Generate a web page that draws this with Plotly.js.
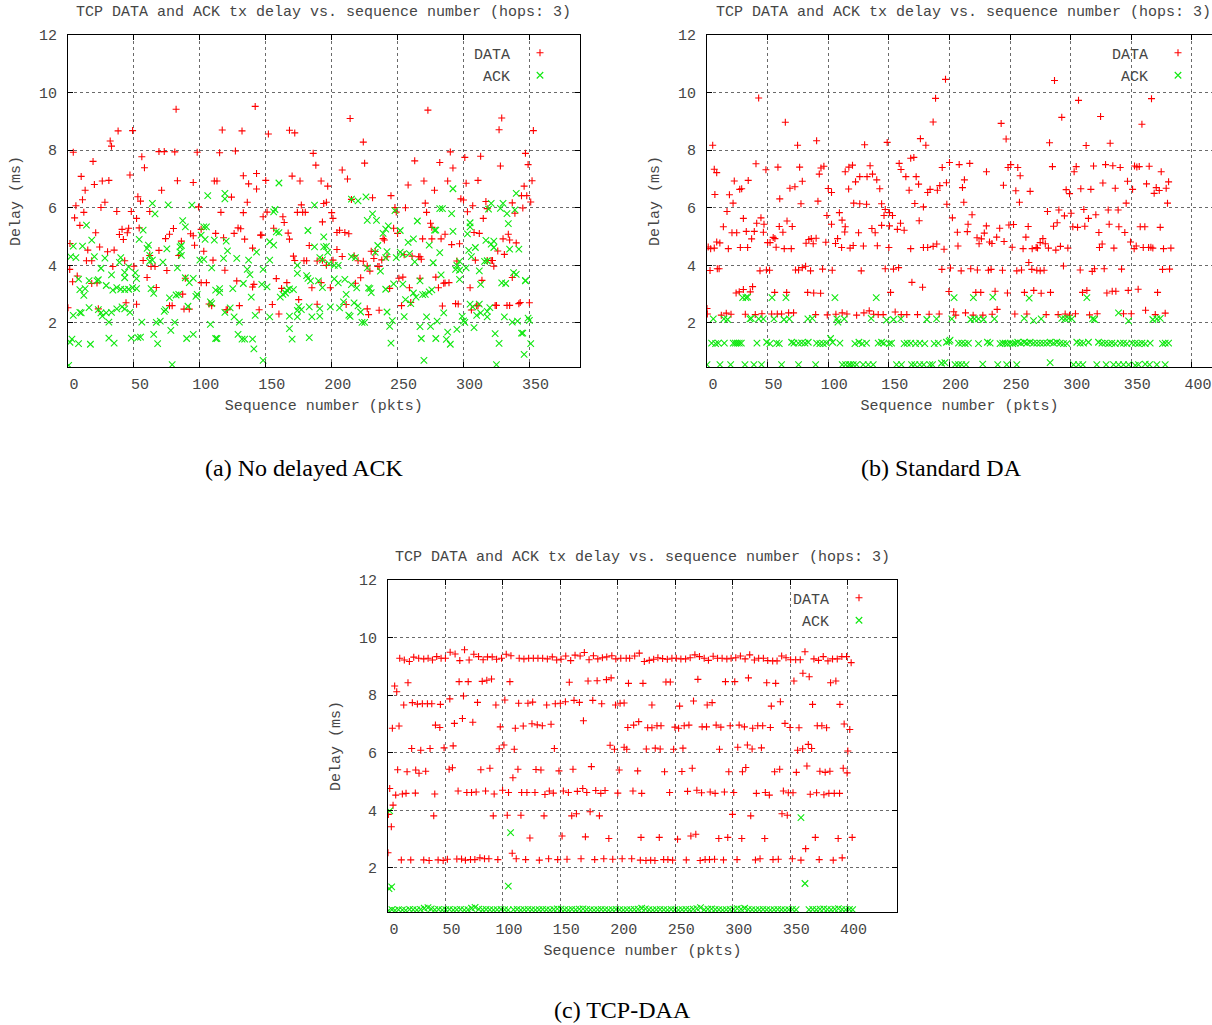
<!DOCTYPE html>
<html>
<head>
<meta charset="utf-8">
<script src="https://cdn.plot.ly/plotly-3.0.1.min.js"></script>
<style>
html,body{margin:0;padding:0;background:#fff;}
#chart{position:absolute;left:0;top:0;width:1212px;height:1025px;}
</style>
</head>
<body>
<div id="chart"></div>
<script>
// ---------- DATA ----------
const seriesNames = ['DATA', 'ACK'];
const chartTitle = 'TCP DATA and ACK tx delay vs. sequence number (hops: 3)';
const xLabel = 'Sequence number (pkts)';
const yLabel = 'Delay (ms)';
const captions = ['(a) No delayed ACK', '(b) Standard DA', '(c) TCP-DAA'];

// Panel (a): No delayed ACK  [sequence, delay ms]
const aData = [
[0,2.53],[1.5,4.76],[1.3,3.86],[3.5,3.43],[4,7.93],[5,5.65],[6,6.07],[7,3.63],[9,5.39],[10,7.09],[11,6.28],[12,5.84],[13,6.61],[14,4.16],[15,4.53],[18,4.16],[18,3.37],[19,7.61],[20,6.81],[21,5.13],[22,3.39],[23,2.49],[24,4.64],[25,6.01],[26,6.93],[28,6.19],[30,4.47],[31,6.95],[32,8.32],[33,8.14],[34,3.96],[35,4.53],[37,5.87],[38,8.67],[39,5.07],[41,5.25],[42,4.9],[43,4.16],[44,2.7],[45,5.13],[46,5.29],[47,7.14],[48,5.87],[49,8.68],[50,3.97],[52,5.63],[52,2.65],[53,6.38],[54,5.3],[55,6.23],[56,7.77],[57,4.17],[58,7.39],[60,3.58],[62,5.87],[62,4.34],[63,3.96],[66,3.96],[67,3.23],[69,7.95],[69,4.52],[71,6.61],[73,7.95],[74,4.93],[75,3.82],[77,5.08],[77,2.6],[79,2.6],[80,5.28],[81,7.94],[82,9.42],[83,6.94],[84,4.34],[86,4.84],[87,3.0],[88,2.48],[89,3.55],[92,2.48],[93,5.1],[95,5.03],[95,6.88],[96,4.7],[98,7.93],[99,6.03],[101,5.25],[101,3.4],[103,4.49],[105,3.4],[107,2.66],[109,2.6],[110,4.18],[111,6.93],[112,5.11],[113,6.93],[115,7.91],[116,5.84],[117,8.7],[118,4.96],[119,3.83],[120,2.46],[121,2.46],[124,6.37],[126,5.11],[127,7.97],[128,3.46],[129,5.3],[130,2.6],[131,5.27],[132,8.67],[133,7.11],[133,5.83],[134,4.91],[136,6.19],[137,6.83],[140,4.6],[140,3.25],[141,3.34],[142,9.52],[143,7.19],[143,6.65],[145,2.46],[146,5.05],[147,5.05],[148,5.69],[150,6.95],[151,5.85],[152,8.56],[155,2.64],[156,5.29],[158,3.54],[160,2.31],[162,3.2],[163,5.69],[164,5.49],[166,3.4],[167,5.12],[168,4.91],[168,8.69],[170,7.1],[171,4.32],[172,4.17],[172,8.6],[174,5.84],[175,2.81],[176,6.93],[177,6.1],[178,5.84],[179,4.16],[180,5.84],[181,4.16],[183,4.69],[185,3.22],[186,7.89],[188,7.48],[189,4.15],[189,2.65],[192,6.93],[193,5.51],[193,4.18],[194,6.15],
[192,3.4],[196,6.19],[196,4.0],[197,6.75],[199,3.22],[200,5.83],[201,5.63],[201,4.18],[204,5.14],[204,4.55],[206,5.22],[208,7.31],[208,4.31],[210,5.14],[211,2.64],[212,7.0],[213,5.1],[214,9.1],[215,6.29],[217,4.33],[218,3.38],[220,4.16],[222,3.57],[224,8.28],[224,4.14],[225,7.55],[227,3.98],[227,2.49],[228,2.29],[229,3.8],[230,4.49],[231,6.35],[232,4.24],[233,4.48],[235,3.96],[236,3.96],[236,2.44],[238,4.19],[239,4.93],[240,4.88],[242,4.3],[244,3.2],[245,6.42],[247,5.29],[248,6.01],[249,5.85],[250,5.11],[251,3.55],[253,2.6],[254,3.59],[255,4.37],[256,6.0],[258,6.79],[259,3.22],[260,2.71],[261,4.32],[263,7.63],[266,4.3],[267,4.3],[267,3.55],[268,4.21],[269,4.92],[270,6.93],[271,6.16],[272,5.84],[273,9.39],[275,5.46],[276,5.32],[276,4.92],[278,6.61],[279,3.59],[281,3.22],[282,7.57],[283,4.92],[284,2.59],[285,3.38],[286,5.08],[286,3.39],[288,6.93],[289,3.4],[290,7.94],[291,4.72],[292,7.38],[294,2.67],[295,4.15],[296,2.66],[297,4.75],[298,6.31],[300,6.27],[301,7.75],[302,6.85],[303,5.86],[305,3.22],[306,2.45],[307,6.07],[308,5.14],[309,4.18],[310,2.6],[311,6.95],[311,2.6],[312,5.11],[313,7.79],[314,3.48],[315,5.63],[317,6.22],[318,5.97],[318,4.17],[321,4.17],[322,4.17],[323,3.97],[324,2.61],[325,2.61],[326,4.5],[327,8.71],[328,7.45],[329,9.12],[330,4.92],[331,4.38],[333,2.61],[334,5.08],[335,4.88],[335,2.61],[337,6.17],[337,3.58],[339,5.81],[340,4.78],[342,2.67],[343,2.71],[344,6.42],[345,5.99],[346,6.75],[347,7.89],[348,6.42],[349,7.5],[350,2.7],[351,6.2],[352,6.94],[353,8.68]
];
const aAck = [
[0.5,0.53],[1.5,1.33],[2,4.3],[3,1.44],[4,4.67],[4,2.26],[6,4.27],[8,1.28],[8,3.52],[9,2.37],[9,3.16],[10,2.35],[11,4.67],[12,2.96],[13,3.19],[14,5.4],[16,2.53],[16,3.47],[17,1.26],[18,4.88],[20,4.3],[22,3.46],[23,2.46],[23,3.5],[25,2.35],[25,3.9],[26,2.24],[28,4.25],[29,2.35],[29,3.3],[31,2.03],[31,1.47],[33,2.37],[33,3.67],[34,3.14],[35,1.3],[37,2.49],[37,3.23],[39,4.1],[40,4.27],[40,3.17],[41,2.56],[43,2.49],[43,3.16],[43,3.57],[43,3.76],[46,3.17],[46,3.95],[47,2.37],[48,1.47],[49,3.23],[51,3.74],[52,3.19],[52,3.54],[53,1.49],[54,4.9],[55,1.51],[56,2.03],[57,5.22],[60,4.59],[61,4.7],[62,4.35],[62,4.14],[63,3.19],[64,4.18],[64,6.15],[65,3.03],[65,1.6],[66,5.79],[67,2.02],[68,1.28],[70,2.06],[72,4.11],[73,2.4],[74,2.46],[75,4.57],[76,6.1],[77,2.87],[78,1.74],[79,0.55],[81,2.02],[82,2.97],[83,3.91],[84,2.99],[85,4.64],[85,4.47],[86,4.35],[86,4.69],[87,5.55],[89,5.34],[89,3.57],[90,1.46],[91,2.58],[92,3.4],[94,6.09],[95,3.55],[95,1.6],[97,2.92],[98,2.99],[100,4.18],[101,5.05],[103,5.34],[103,4.21],[104,4.9],[105,5.34],[106,6.42],[108,2.73],[108,1.95],[109,2.67],[109,3.91],[111,4.88],[112,3.14],[112,1.46],[113,1.46],[115,3.19],[115,3.06],[118,4.24],[119,2.37],[119,6.5],[119,6.31],[120,4.84],[121,4.5],[123,2.52],[125,3.19],[126,2.21],[128,4.24],[129,1.6],[130,2.03],[132,1.44],[133,3.37],[134,1.44],[136,3.86],[137,4.18],[138,3.68],[139,2.9],[140,1.44],[141,1.1],[142,2.26],[143,4.46],[147,3.34],[148,3.86],[148,0.7],[151,3.25],[153,4.82],[153,4.18],[153,2.21],[156,4.7],[156,5.86],[157,5.94],[158,5.16],[160,5.14],[160,6.86],[161,2.9],[163,2.99],[165,3.04],[166,3.14],[168,3.18],[168,2.24],[168,1.8],[170,1.44],[171,3.16],[174,3.72],[174,4.0],[174,2.21],[174,2.44],[175,2.57],[177,2.46],[181,3.64],[182,3.55],[182,5.21],[183,2.56],[183,1.49],[184,3.46],[185,2.21],[187,4.64],[187,6.09],[190,3.46],[191,4.27],[191,2.24],[193,3.23],[194,4.64],[194,4.99],
[191,2.5],[193,4.19],[196,4.66],[197,4.45],[198,4.06],[199,2.56],[202,4.0],[202,3.53],[205,4.0],[205,3.39],[206,2.52],[209,2.73],[210,3.51],[211,2.99],[213,2.27],[214,2.23],[215,4.3],[215,3.33],[215,6.3],[217,2.7],[218,4.27],[219,3.22],[220,2.59],[220,6.24],[222,2.38],[223,2.02],[225,2.02],[226,6.38],[227,5.56],[227,3.91],[228,3.22],[229,3.19],[230,3.05],[231,5.79],[233,4.45],[234,5.56],[235,4.69],[237,3.8],[239,5.11],[241,5.26],[241,4.27],[241,3.17],[242,4.48],[242,2.38],[243,5.37],[244,1.88],[245,1.3],[246,2.08],[247,3.36],[248,5.9],[249,4.27],[252,5.21],[252,4.46],[254,4.38],[254,3.35],[255,2.22],[256,2.81],[258,4.8],[259,4.41],[260,2.67],[262,4.92],[262,3.04],[263,4.12],[264,2.9],[265,5.54],[267,1.87],[267,3.46],[268,1.46],[269,2.98],[270,0.7],[271,2.99],[272,2.21],[274,4.7],[274,3.08],[275,1.88],[276,3.15],[277,4.09],[278,5.22],[279,5.22],[279,1.46],[280,2.06],[282,4.44],[282,5.97],[283,3.67],[284,5.97],[285,2.35],[287,1.43],[288,1.68],[290,1.26],[291,5.8],[292,5.18],[292,6.66],[294,3.86],[295,4.0],[295,1.78],[297,3.83],[297,3.51],[297,4.14],[299,2.23],[300,2.07],[301,2.02],[302,3.91],[303,5.09],[304,4.52],[305,5.48],[305,5.34],[305,2.65],[306,4.3],[307,2.56],[308,1.84],[309,4.62],[310,2.26],[312,3.81],[312,2.65],[313,3.34],[313,2.35],[316,4.14],[317,4.87],[318,4.16],[318,2.21],[318,2.4],[319,5.95],[320,2.53],[321,4.74],[321,6.15],[323,4.62],[323,4.84],[324,1.63],[325,0.55],[327,1.29],[328,5.98],[329,3.39],[330,6.15],[331,2.21],[332,3.37],[333,5.8],[334,5.45],[335,4.56],[337,2.03],[338,3.75],[339,5.93],[340,3.69],[340,6.5],[341,2.06],[342,4.56],[344,1.65],[345,1.65],[346,0.91],[347,3.46],[347,3.48],[349,2.17],[350,2.09],[351,1.28]
];

// Panel (b): Standard DA
const bData = [
[0,2.5],[0.3,2.31],[1,4.64],[2.5,3.82],[3,4.58],[4.7,8.17],[6,4.6],[6,7.34],[6.5,6.46],[8,7.22],[8,4.81],[8.5,3.88],[10,3.88],[10.6,4.78],[11.8,2.27],[13.5,5.34],[15.9,2.34],[16.5,5.87],[17.6,4.58],[18.5,6.45],[19.8,2.3],[20.6,5.13],[21.5,6.16],[22.5,6.93],[24,3.04],[24.5,5.13],[26.6,3.08],[27,6.64],[27.5,4.62],[28.6,6.66],[30,5.63],[30,3.16],[31.6,2.3],[32.4,5.18],[33.5,4.62],[34,6.95],[35.7,3.08],[36.8,4.92],[37.6,3.26],[39,5.18],[39.8,2.29],[40.4,7.53],[41,5.46],[42.6,9.81],[43.7,3.81],[44.5,5.65],[45.3,2.32],[46.5,5.15],[47,5.43],[48.6,7.32],[49,3.84],[50,4.79],[51.6,3.83],[52,4.79],[53.3,2.31],[54.6,4.97],[55.8,3.06],[56,4.93],[57,4.63],[58,2.31],[58.5,7.41],[59.6,5.35],[60,6.31],[61.5,2.31],[62.6,5.15],[63.7,4.58],[64.6,8.97],[65.7,3.06],[66,5.54],[67.3,2.35],[68.4,6.68],[69.5,4.58],[70.3,5.35],[71.4,2.35],[72.5,6.73],[73,3.84],[74.7,8.17],[75.5,3.84],[76.4,7.41],[77.5,6.14],[78.6,6.92],[78.6,3.92],[81.3,3.97],[81.7,4.77],[83,3.06],[84,4.9],[85.4,3.81],[86,4.93],[87.6,4.75],[88,3.04],[89.6,2.29],[90,4.94],[90.4,8.33],[91.5,6.23],[92.6,7.17],[93.7,3.03],[94,7.38],[95.3,3.87],[96.4,7.44],[98,4.8],[98.9,5.73],[99.2,2.28],[100,6.67],[102.7,6.53],[102.7,5.43],[103.3,3.83],[106,4.76],[106.3,2.3],[107.7,4.93],[109.2,5.83],[111,4.62],[111.4,5.57],[111.5,2.35],[113.6,5.16],[114,5.34],[114,7.25],[115.4,2.31],[116.8,6.65],[117,7.41],[118,4.6],[120,7.48],[120.6,4.69],[121,6.16],[122.5,6.9],[123.4,2.27],[125,5.13],[126,7.08],[126,6.14],[127.2,3.81],[129,4.67],[129.4,2.35],[130,8.19],[131.6,6.12],[132,7.08],[133.8,2.42],[134.5,7.46],[136,5.28],[136.5,7.17],[137.4,2.3],[138.7,5.13],[140,6.97],[140.5,4.68],[141.2,2.29],[142.5,6.66],[144,6.14],[144,5.39],[145.3,2.29],[146,5.73],[147,5.94],[147,3.88],[148.6,8.27],[150,4.62],[150.5,5.83],[150.5,5.37],[151.4,3.06],[153,5.73],[153.8,3.87],[155.2,2.38],[157,5.25],[158,3.92],[158.5,7.54],[159.6,5.46],[160,7.33],[160.2,2.29],[162.6,5.22],[164,7.08],[164.8,2.29],[166.7,6.61],[168,7.72],[168,4.58],[169,3.41],[170.6,7.75],[171.4,6.15],[172.5,7.08],[173.6,2.29],[174.5,6.82],[175,5.55],[176,8.4],[177.8,3.24],[178.5,6.03],[178.5,4.62],[180.5,8.17],[182,6.53],[182,4.62],[183.2,2.3],[184,6.64],[186.5,8.98],[186.5,4.66],[188.5,9.8],[189.5,4.74],[190,6.61],[191.5,2.31],[192,6.77],[193.7,3.86],[194,7.4],[195.5,4.56],[196.7,10.46],[197.5,6.87],[197.8,6.12],[199.5,3.09],[200,7.57],[200.8,3.91],
[202.4,5.65],[203.5,2.39],[205.2,2.27],[206.5,5.15],[207,4.67],[208,7.5],[209.6,3.81],[210.7,6.7],[211.8,6.19],[212.3,6.97],[213.2,2.35],[214.7,5.17],[215.3,5.43],[216.7,7.54],[217.5,3.88],[218.6,5.76],[219.5,2.27],[221.7,3.06],[222.7,4.96],[223,3.84],[224.4,4.75],[225.8,3.06],[226.3,4.92],[227.5,2.27],[228.7,5.12],[230.4,5.37],[230.5,7.25],[232.1,3.83],[233,4.81],[234.3,3.86],[235,4.76],[235.2,2.3],[237.6,3.1],[238.9,4.98],[239.3,2.47],[241.4,5.29],[242.6,8.93],[243.7,3.83],[244.5,6.78],[245,4.83],[246.7,8.39],[247.8,3.04],[248.3,7.4],[249,5.4],[250.5,7.5],[251.7,4.63],[252.8,5.42],[253.9,2.31],[254.7,6.59],[255.5,3.81],[256.3,7.4],[257.7,6.19],[258.3,7.11],[259.4,3.84],[260.7,4.58],[261.8,3.06],[263,4.98],[263.8,2.31],[264.9,5.35],[265.4,4.1],[266.5,6.57],[267.9,3.86],[268.2,4.58],[269.5,3.13],[271.5,4.62],[272,3.83],[272.6,4.6],[274.8,4.79],[274.8,3.81],[275.6,3.03],[277,4.93],[278,3.83],[279,4.75],[279.7,2.29],[280.8,5.87],[281.6,4.6],[282.5,8.26],[283.3,3.06],[284.9,7.43],[285.8,5.36],[286.6,10.42],[287.7,4.53],[288.8,5.48],[289.6,2.29],[290.2,5.92],[291.5,4.66],[292.6,9.14],[294,3.98],[294.8,5.72],[295.4,2.31],[296.2,6.63],[297.6,4.6],[299,6.49],[299,2.27],[300.3,5.81],[301.7,5.34],[302.8,7.25],[303.9,2.32],[304.5,7.43],[305.6,5.32],[306.4,9.73],[307.8,3.84],[308.3,6.66],[309.7,3.06],[310.8,5.94],[311.6,5.36],[312.7,8.16],[313.3,3.13],[314.6,5.63],[315.5,2.28],[316.6,6.64],[317.7,3.79],[318.8,7.45],[319.6,3.88],[320.7,5.76],[321.8,2.32],[323.2,5.14],[323.7,4.62],[324.6,9.17],[325.9,4.74],[326.5,6.86],[327.6,3.88],[328.7,7.5],[329.8,3.04],[330.9,5.92],[331.7,5.43],[332.5,8.24],[334.2,3.1],[334.7,7.46],[335.6,4.6],[336.7,6.68],[337.2,3.1],[339.1,5.92],[339.7,5.34],[340.8,7.4],[341.9,3.87],[343.5,2.32],[344.6,5.14],[345.7,6.16],[346.8,6.92],[347.4,3.13],[349.3,4.81],[349.9,2.32],[351,6.64],[352.3,4.58],[352.6,7.45],[354,4.67],[354.5,7.42],[355.6,3.17],[356.5,7.43],[357.3,5.34],[358.7,8.9],[359.8,4.62],[361.1,5.34],[361.7,2.44],[362.5,6.83],[364.2,4.62],[364.7,7.44],[366.1,4.63],[366.6,9.79],[367.7,4.6],[368.8,6.5],[369.7,2.29],[370.5,6.7],[371.6,3.06],[373,6.6],[373.8,5.32],[374.6,7.25],[375.7,3.86],[376.5,4.58],[377.9,2.34],[378.7,6.68],[379.8,6.16],[380.7,6.9],[381.5,3.87],[382.6,4.6]
];
const bAck = [
[29.4,2.88],[32.1,2.88],[33.5,2.9],[53.6,2.88],[65.1,2.88],[105.5,2.88],[139.6,2.88],[203.8,2.88],[219.7,2.88],[235.7,2.9],[265.7,2.86],[313.3,2.88],
[5.2,2.14],[14,2.14],[17,2.12],[35.4,2.14],[36.5,2.16],[42.6,2.14],[46.4,2.14],[55.2,2.14],[63.5,2.12],[67.9,2.14],[83.2,2.14],[86.8,2.16],[107.1,2.14],[108,2.03],[113.2,2.14],[135.4,2.16],[148.1,2.1],[153.8,2.12],[159.9,2.14],[181.3,2.12],[189.3,2.14],[201.9,2.14],[217.5,2.12],[220.6,2.14],[223.9,2.14],[228,2.12],[237.1,2.14],[261.6,2.16],[269.3,2.08],[275.6,2.14],[292.6,2.16],[295.4,2.14],[298.1,2.16],[300.9,2.14],[318,2.14],[319.6,2.12],[339.4,2.35],[347.7,2.07],[367.7,2.12],[371,2.14],[373.8,2.16],
[3.8,1.3],[7.1,1.28],[9.3,1.3],[14.3,1.3],[21.7,1.3],[23.4,1.3],[25,1.3],[26.6,1.3],[28.3,1.3],[41.2,1.3],[49.2,1.33],[51.9,1.28],[57.4,1.3],[59.6,1.28],[69.8,1.33],[71.7,1.3],[75.3,1.3],[78,1.31],[80.8,1.3],[83.5,1.33],[90.4,1.3],[93.1,1.28],[95.9,1.28],[98.6,1.3],[101.9,1.46],[103.6,1.33],[109.6,1.3],[122,1.28],[125.3,1.33],[128,1.28],[131.6,1.3],[141.2,1.3],[144,1.33],[145.9,1.3],[150.3,1.28],[152.2,1.3],[162.6,1.28],[165.1,1.3],[168.1,1.3],[172,1.28],[175.5,1.3],[179.6,1.28],[187.4,1.28],[190.7,1.3],[197.5,1.33],[199.7,1.36],
[200.5,1.4],[207.4,1.3],[210.1,1.3],[212.9,1.28],[215.6,1.3],[223.9,1.28],[231.3,1.33],[233.5,1.3],[241.7,1.28],[243.9,1.3],[245.9,1.3],[247.8,1.28],[250,1.3],[252.2,1.28],[254.1,1.3],[256.3,1.33],[258.8,1.3],[261.6,1.33],[263.8,1.3],[266.5,1.33],[269.3,1.3],[272,1.3],[274.8,1.3],[277.5,1.3],[280.3,1.3],[283,1.33],[285.8,1.3],[288.5,1.33],[291.3,1.3],[294,1.28],[296.8,1.28],[305,1.33],[307.8,1.3],[310.5,1.3],[314.6,1.33],[322.9,1.33],[325.7,1.3],[328.4,1.3],[331.2,1.28],[333.9,1.3],[336.7,1.28],[340.8,1.3],[343.5,1.3],[346.3,1.28],[350.4,1.3],[353.2,1.3],[355.9,1.28],[358.7,1.3],[361.4,1.28],[365.5,1.3],[375.7,1.28],[377.9,1.3],[380.7,1.3],
[0,0.55],[10.7,0.55],[19.5,0.55],[31.3,0.55],[38.7,0.55],[45,0.55],[61.5,0.55],[75.5,0.55],[89.6,0.55],[111.5,0.55],[114.3,0.55],[117,0.55],[118.4,0.55],[120.6,0.55],[123.4,0.55],[128.8,0.55],[133,0.55],[137.1,0.55],[156.3,0.55],[160.4,0.55],[168.7,0.55],[171.4,0.55],[175.5,0.55],[178.8,0.55],[183.8,0.55],[186,0.55],[193.4,0.6],[196.2,0.62],
[204.6,0.55],[207.4,0.55],[210.1,0.55],[213.7,0.55],[227.4,0.57],[239.8,0.55],[247.2,0.55],[255.5,0.55],[283,0.62],[302.3,0.55],[306.4,0.55],[310,0.55],[321.5,0.55],[329.2,0.55],[335.3,0.55],[339.4,0.55],[343.5,0.55],[347.7,0.55],[353.2,0.53],[355.9,0.55],[361.4,0.57],[365,0.55],[371,0.55],[377.9,0.55]
];

// Panel (c): TCP-DAA
const cData = [
[10.2,9.28],[14.2,9.22],[18.6,9.17],[22.4,9.32],[26.7,9.28],[31.1,9.26],[34.9,9.28],[38.7,9.22],[42.4,9.34],[46.2,9.28],[50,9.28],[54.1,9.49],[58.4,9.43],[62.5,9.2],[66.6,9.58],[70.6,9.22],[74.7,9.42],[78.8,9.34],[82.8,9.23],[86.6,9.33],[90.7,9.33],[94.5,9.25],[98.8,9.28],[102.9,9.42],[107,9.37],[114.2,9.28],[118.3,9.26],[122.4,9.28],[126.5,9.28],[130.5,9.28],[134.6,9.28],[138.7,9.26],[143,9.33],[146.8,9.22],[150.6,9.25],[154.7,9.36],[159,9.2],[162.8,9.39],[167.2,9.36],[170.9,9.48],[175,9.23],[178.8,9.37],[182.6,9.26],[186.6,9.3],[190.4,9.33],[194.8,9.37],[198.3,9.26],[202.6,9.28],[207.3,9.28],
[210.3,9.28],[214.7,9.36],[218.7,9.46],[223.1,9.17],[227.4,9.21],[231.2,9.25],[234.9,9.3],[239,9.27],[243.1,9.25],[247.1,9.28],[250.9,9.28],[254.9,9.26],[259,9.26],[263,9.3],[267.1,9.4],[271.1,9.34],[275.2,9.28],[278.9,9.21],[283,9.35],[286.8,9.28],[290.8,9.28],[294.9,9.26],[298.6,9.28],[302.7,9.3],[306.7,9.36],[310.8,9.26],[314.8,9.4],[318.9,9.22],[322.6,9.28],[326.7,9.28],[330.5,9.2],[334.8,9.19],[338.6,9.19],[342.6,9.36],[346.4,9.3],[350.4,9.23],[354.8,9.23],[358.8,9.23],[362.9,9.51],[370.7,9.26],[374.7,9.21],[378.8,9.34],[382.9,9.19],[386.9,9.26],[391,9.26],[395,9.34],[399.1,9.34],[403.1,9.13],
[5.8,8.32],[7.6,8.12],[17.4,8.43],[61.9,8.47],[69.8,8.47],[82,8.48],[86,8.52],[90.1,8.56],[106.1,8.47],[157.8,8.45],[174.1,8.49],[182,8.5],[190.1,8.54],[194.2,8.6],[209.3,8.41],[221.9,8.41],[241.9,8.46],[245.7,8.46],[269.7,8.55],[293.7,8.47],[301.8,8.47],[313.7,8.6],[329.6,8.43],[337.4,8.41],[353.3,8.49],[361.1,8.76],[366.6,8.64],[385.2,8.43],[389.8,8.49],
[13.7,7.66],[21.2,7.74],[25.6,7.69],[29.9,7.7],[34.3,7.7],[38.1,7.7],[45.6,7.68],[53.8,7.87],[65.7,7.97],[77.9,7.75],[93.9,7.66],[101.7,7.83],[113.7,7.72],[121.8,7.72],[125.9,7.76],[138.1,7.66],[145.6,7.7],[150,7.72],[154.4,7.77],[161.9,7.82],[166.6,7.75],[178.2,7.82],[186,7.7],[198,7.66],[202,7.72],[205.5,7.73],[229.7,7.66],[253.8,7.62],[265.9,7.8],[277.8,7.66],[282.1,7.74],[333.6,7.62],[341.5,7.77],[369.5,7.68],[393.3,7.68],
[3.8,6.85],[9.6,6.93],[41.3,6.96],[45.1,6.88],[57.8,7.02],[64.8,7.19],[73.8,7.06],[97.7,6.9],[110.8,6.85],[117.7,6.93],[125.3,7.01],[129.9,6.97],[134.3,6.94],[141.9,6.99],[170.1,7.11],[208.7,6.88],[213.8,6.96],[218.2,7.08],[226,6.87],[229.7,6.87],[234.1,6.94],[237.6,6.94],[249.7,6.89],[252.9,6.85],[257.8,6.94],[261.9,6.96],[273.4,6.9],[277.2,6.9],[285.6,6.96],[289.7,6.89],[297.8,6.94],[305.6,6.96],[310.2,6.9],[317.4,6.85],[321.8,6.94],[326.1,6.94],[332.8,6.88],[345.5,7.02],[349.9,6.88],[357.7,6.87],[373.6,6.94],[377.6,6.94],[381.7,6.87],[397,7.0],[401.9,6.81],
[20.6,6.15],[28.5,6.09],[36.6,6.15],[48.8,6.17],[56.7,6.24],[96.8,6.14],[100.9,6.27],[109.9,6.12],[144.8,6.15],[193.3,6.26],[197.1,6.12],[205.5,6.19],[207.8,6.12],[224.8,6.13],[232.6,6.16],[236.9,6.13],[248.6,6.12],[256.7,6.16],[288.5,6.12],[304.4,6.19],[312.8,6.27],[316.9,6.13],[325,6.17],[356.5,6.09],[360.9,6.14],[365.8,6.29],[368.7,6.15],[400.2,6.06],
[8.4,5.41],[16.6,5.34],[24.1,5.4],[27,5.29],[32.8,5.36],[53.2,5.43],[56.1,5.48],[80.8,5.41],[88.7,5.46],[108.7,5.13],[113.1,5.43],[128.8,5.42],[133.1,5.4],[148.8,5.37],[161,5.43],[177,5.52],[201.2,5.4],[217.3,5.37],[240.7,5.34],[255.8,5.35],[264.8,5.46],[296.6,5.34],[308.5,5.34],[311.4,5.49],[336.5,5.34],[340.9,5.43],[355.4,5.32],[364.6,5.54],[375.9,5.36],[380.5,5.32],[384.6,5.36],[396.2,5.46],[399.6,5.3],
[1.5,4.76],[4.4,4.18],[6.7,4.53],[12.5,4.57],[15.7,4.59],[23.8,4.6],[40.7,4.57],[61,4.67],[68.6,4.62],[72.7,4.62],[76.7,4.64],[84.9,4.67],[92.4,4.57],[99.7,4.7],[104.9,4.62],[116.3,4.62],[120.9,4.62],[127.9,4.62],[136.6,4.55],[140.4,4.67],[143.9,4.6],[152.6,4.67],[157,4.62],[164.8,4.66],[169.5,4.76],[173,4.62],[180.8,4.69],[185.2,4.59],[188.9,4.69],[200,4.6],[213.2,4.67],[220.8,4.59],[245.1,4.62],[260.7,4.66],[268.8,4.7],[272.9,4.61],[280.4,4.64],[284.7,4.59],[292.8,4.64],[300.9,4.62],[320.6,4.59],[328.4,4.62],[331.9,4.53],[344.1,4.67],[348.4,4.61],[352.5,4.61],[367.5,4.56],[373,4.61],[379.4,4.54],[383.7,4.59],[388.4,4.59],[393,4.59],
[0.3,3.86],[2.9,3.43],[39.8,3.81],[91.6,3.81],[103.8,3.83],[115.7,3.83],[135.8,3.81],[159.9,3.81],[164,3.88],[175.9,3.95],[184,3.81],[299.8,3.86],[315.7,3.81],[342.9,3.88],[347.5,3.83],
[123.5,3.04],[151.5,3.11],[171.8,3.08],[192.2,3.02],[220.2,3.06],[236.1,3.06],[252,3.0],[263.6,3.11],[267.9,3.17],[287.9,3.02],[295.7,3.06],[307.9,3.02],[327.9,3.02],[363.5,2.67],[371.9,3.06],[391.8,3.02],[404,3.06],
[0,2.53],[11.6,2.28],[19.8,2.28],[31.1,2.28],[35.8,2.26],[43.6,2.28],[48,2.26],[51.7,2.3],[59.9,2.31],[64,2.31],[67.4,2.27],[71.8,2.29],[75.6,2.29],[80,2.35],[84,2.32],[87.8,2.32],[95.6,2.29],[108.1,2.51],[111.6,2.32],[119.8,2.29],[131.7,2.27],[139.8,2.32],[147.7,2.29],[155.8,2.3],[168,2.32],[179.9,2.29],[187.8,2.32],[195.6,2.3],[203.8,2.32],[212.1,2.32],[219.6,2.27],[224.5,2.26],[228.6,2.27],[232.3,2.26],[239.9,2.29],[243.6,2.29],[247.7,2.27],[259.6,2.28],[271.7,2.26],[276,2.29],[279.8,2.29],[284.2,2.3],[292,2.28],[303.8,2.29],[319.8,2.28],[323.8,2.32],[335.1,2.29],[339.7,2.3],[351.9,2.32],[359.4,2.27],[375.3,2.29],[387.5,2.27],[395.3,2.35]
];
const cAck = [
[0.9,1.28],[3.2,1.34],[1.5,3.98],[104.7,1.37],[106.7,3.23],[359.4,3.75],[362.9,1.46],
[0.5,0.52],[3.4,0.55],[6.1,0.53],[9.2,0.55],[12.5,0.54],[15.4,0.53],[18.8,0.56],[21.9,0.55],[25.1,0.54],[28.3,0.56],[31.5,0.6],[34.8,0.62],[37.6,0.58],[40.7,0.55],[44,0.56],[47.2,0.54],[50.3,0.55],[53.5,0.56],[56.8,0.54],[59.9,0.55],[63.1,0.56],[66.4,0.54],[69.6,0.55],[72.7,0.6],[75.8,0.63],[79,0.57],[82.3,0.55],[85.4,0.56],[88.6,0.55],[91.8,0.54],[95,0.55],[98.3,0.56],[101.5,0.55],[104.6,0.54],[109.2,0.55],[112.4,0.56],[115.5,0.54],[118.7,0.55],[121.9,0.56],[125.1,0.55],[128.3,0.54],[131.5,0.55],[134.6,0.56],[137.8,0.55],[141,0.54],[144.2,0.56],[147.4,0.58],[150.6,0.57],[153.8,0.55],[157,0.54],[160.1,0.56],[163.3,0.55],[166.5,0.57],[169.7,0.58],[172.9,0.56],[176.1,0.55],[179.3,0.54],[182.5,0.55],[185.6,0.56],[188.8,0.55],[192,0.54],[195.2,0.55],[198.4,0.56],[201.6,0.55],[204.8,0.54],[208,0.55],
[211.2,0.55],[214.4,0.56],[217.6,0.57],[220.8,0.6],[224,0.58],[227.2,0.55],[230.4,0.54],[233.6,0.55],[236.8,0.56],[240,0.55],[243.2,0.54],[246.4,0.56],[249.6,0.55],[252.8,0.54],[256,0.55],[259.2,0.56],[262.4,0.55],[265.6,0.57],[268.8,0.59],[272,0.62],[275.2,0.55],[278.4,0.57],[281.6,0.58],[284.8,0.56],[288,0.55],[291.2,0.54],[294.4,0.55],[297.6,0.56],[300.8,0.57],[304,0.59],[307.2,0.57],[310.4,0.6],[313.6,0.56],[316.8,0.55],[320,0.54],[323.2,0.55],[326.4,0.56],[329.6,0.55],[332.8,0.54],[336,0.55],[339.2,0.56],[342.4,0.55],[345.6,0.54],[348.8,0.55],[352,0.56],[355.2,0.55],[366.4,0.55],[369.6,0.56],[372.8,0.55],[376,0.57],[379.2,0.58],[382.4,0.56],[385.6,0.55],[388.8,0.57],[392,0.59],[395.2,0.56],[398.4,0.55],[401.6,0.56],[404.4,0.55]
];

// ---------- STYLE ----------
const FONT = '"Liberation Mono", "Courier New", monospace';
const TXT = '#454545';
const RED = '#ff0000';
const GREEN = '#10e810';
const W = 1212, H = 1025;

const panels = [
  {data:aData, ack:aAck, xs:'x',  ys:'y',  leg:'legend',  xd:[68,579.5],  yd:[35,367],  xr:[0,388]},
  {data:bData, ack:bAck, xs:'x2', ys:'y2', leg:'legend2', xd:[707,1212],  yd:[35,367],  xr:[0,416.5]},
  {data:cData, ack:cAck, xs:'x3', ys:'y3', leg:'legend3', xd:[388,897],   yd:[580,912], xr:[0,443]}
];

const traces = [];
const layout = {
  width: W, height: H,
  margin: {l:0, r:0, t:0, b:0},
  paper_bgcolor: '#fff', plot_bgcolor: '#fff',
  font: {family: FONT, size: 15, color: TXT},
  showlegend: true,
  annotations: []
};

function px2x(p){ return p / W; }
function px2y(p){ return 1 - p / H; }

const legendPos = [[470, 36.5], [1108, 36.5], [789, 581.5]];
const captionPos = [[304, 468], [941, 468], [622, 1010]];

panels.forEach(function(p, i){
  traces.push({
    type:'scatter', mode:'markers', name: seriesNames[0],
    x: p.data.map(function(d){return d[0];}), y: p.data.map(function(d){return d[1];}),
    xaxis: p.xs, yaxis: p.ys, legend: p.leg,
    marker: {symbol:'cross-thin-open', size:5, color:RED, line:{width:1.1, color:RED}},
    hoverinfo:'skip'
  });
  traces.push({
    type:'scatter', mode:'markers', name: seriesNames[1],
    x: p.ack.map(function(d){return d[0];}), y: p.ack.map(function(d){return d[1];}),
    xaxis: p.xs, yaxis: p.ys, legend: p.leg,
    marker: {symbol:'x-thin-open', size:6.5, color:GREEN, line:{width:1.1, color:GREEN}},
    hoverinfo:'skip'
  });
  const sfx = i === 0 ? '' : String(i + 1);
  layout['xaxis' + sfx] = {
    domain: [px2x(p.xd[0]), px2x(p.xd[1])], range: p.xr, anchor: 'y' + sfx,
    tick0: 0, dtick: 50, ticks: 'inside', ticklen: 5, tickcolor: '#000', tickwidth: 1,
    showline: true, linecolor: '#000', linewidth: 1, mirror: 'ticks',
    showgrid: true, gridcolor: '#6a6a6a', gridwidth: 1, griddash: 'dot', zeroline: false,
    tickfont: {family: FONT, size: 15, color: TXT}, ticklabelstandoff: 3, ticklabelshift: 6,
    title: {text: xLabel, font: {family: FONT, size: 15, color: TXT}, standoff: 6},
    automargin: false, fixedrange: true
  };
  layout['yaxis' + sfx] = {
    domain: [px2y(p.yd[1]), px2y(p.yd[0])], range: [0.47, 12], anchor: 'x' + sfx,
    tick0: 0, dtick: 2, ticks: 'inside', ticklen: 5, tickcolor: '#000', tickwidth: 1,
    showline: true, linecolor: '#000', linewidth: 1, mirror: (i === 1 ? false : 'ticks'),
    showgrid: true, gridcolor: '#6a6a6a', gridwidth: 1, griddash: 'dot', zeroline: false,
    tickfont: {family: FONT, size: 15, color: TXT}, ticklabelstandoff: 7,
    title: {text: yLabel, font: {family: FONT, size: 15, color: TXT}, standoff: 14},
    automargin: false, fixedrange: true
  };
  layout[p.leg] = {
    x: px2x(legendPos[i][0]), xanchor: 'left', xref: 'paper',
    y: px2y(legendPos[i][1]), yanchor: 'top', yref: 'paper',
    bgcolor: 'rgba(0,0,0,0)', borderwidth: 0,
    font: {family: FONT, size: 15, color: TXT}, tracegroupgap: 0
  };
  layout.annotations.push({
    text: chartTitle, xref: 'paper', yref: 'paper',
    x: px2x((p.xd[0] + (i === 1 ? 1219 : p.xd[1])) / 2), y: px2y(p.yd[0] - 23),
    xanchor: 'center', yanchor: 'middle', showarrow: false,
    font: {family: FONT, size: 15, color: TXT}
  });
  layout.annotations.push({
    text: captions[i], xref: 'paper', yref: 'paper',
    x: px2x(captionPos[i][0]), y: px2y(captionPos[i][1]),
    xanchor: 'center', yanchor: 'middle', showarrow: false,
    font: {family: '"Liberation Serif", "Times New Roman", serif', size: 24, color: '#000'}
  });
});

// gnuplot-style key: label first (right-aligned), sample symbol to its right
function fixLegends(){
  document.querySelectorAll('#chart .infolayer g.traces').forEach(function(it){
    const t = it.querySelector('text');
    if (t) {
      t.style.textAnchor = 'end';
      t.setAttribute('text-anchor', 'end');
      t.setAttribute('x', '40');
      t.querySelectorAll('tspan').forEach(function(s){
        if (s.hasAttribute('x')) s.setAttribute('x', '40');
      });
    }
    const l = it.querySelector('g.layers');
    if (l) l.setAttribute('transform', 'translate(50,0)');
  });
}

const gd = document.getElementById('chart');
Plotly.newPlot(gd, traces, layout, {staticPlot: true, displayModeBar: false}).then(function(){
  fixLegends();
  gd.on('plotly_afterplot', fixLegends);
  setTimeout(fixLegends, 50);
  setTimeout(fixLegends, 300);
});
</script>
</body>
</html>
